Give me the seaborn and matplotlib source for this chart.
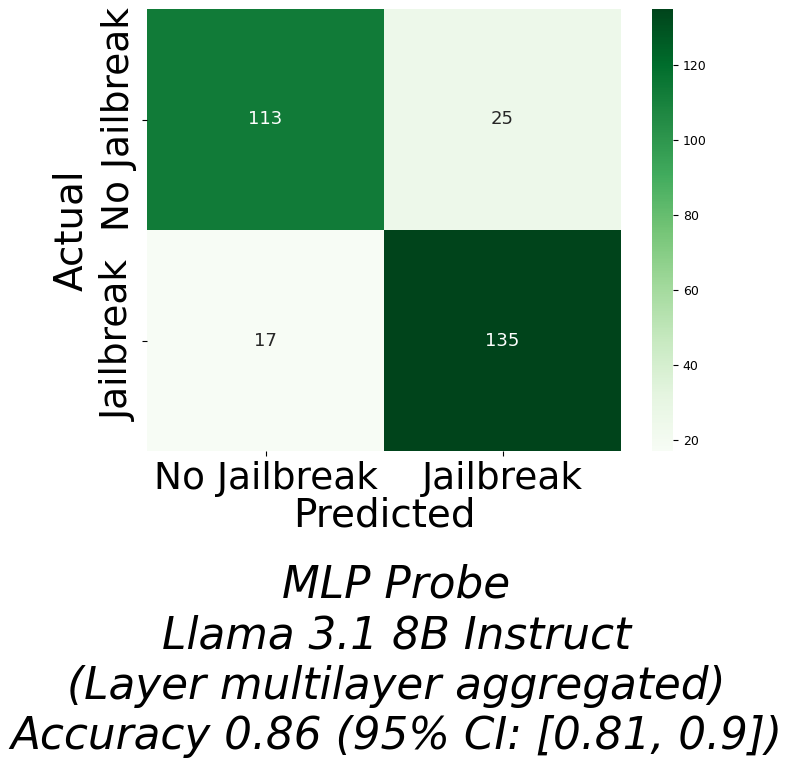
import matplotlib
matplotlib.use("Agg")
import matplotlib.pyplot as plt
import seaborn as sns
import numpy as np
import pandas as pd

labels = ["No Jailbreak", "Jailbreak"]
row_no_jailbreak = [113, 25]
row_jailbreak = [17, 135]
title_lines = ["MLP Probe", "Llama 3.1 8B Instruct", "(Layer multilayer aggregated)",
               "Accuracy 0.86 (95% CI: [0.81, 0.9])"]

cm = pd.DataFrame([row_no_jailbreak, row_jailbreak], index=labels, columns=labels)

fig = plt.figure(figsize=(7.93, 7.67), dpi=100)
W, H = 793, 767
ax = fig.add_axes([147 / W, 1 - 451 / H, (621 - 147) / W, (451 - 9) / H])
cax = fig.add_axes([652 / W, 1 - 451 / H, (673 - 652) / W, (451 - 9) / H])

sns.heatmap(cm, annot=True, fmt="d", cmap="Greens", ax=ax, cbar_ax=cax,
            annot_kws={"fontsize": 13})
ax.set_xticklabels(labels, fontsize=27, rotation=0)
ax.set_yticklabels(labels, fontsize=27, rotation=90, va="center")
ax.set_xlabel("Predicted", fontsize=28, labelpad=0)
ax.set_ylabel("Actual", fontsize=28, labelpad=8)
cax.tick_params(labelsize=9)

fig.text(0.5, 1 - 758 / H, "\n".join(title_lines), ha="center", va="bottom",
         fontsize=31.5, style="italic", linespacing=1.22)

fig.savefig("out.png", dpi=100)
